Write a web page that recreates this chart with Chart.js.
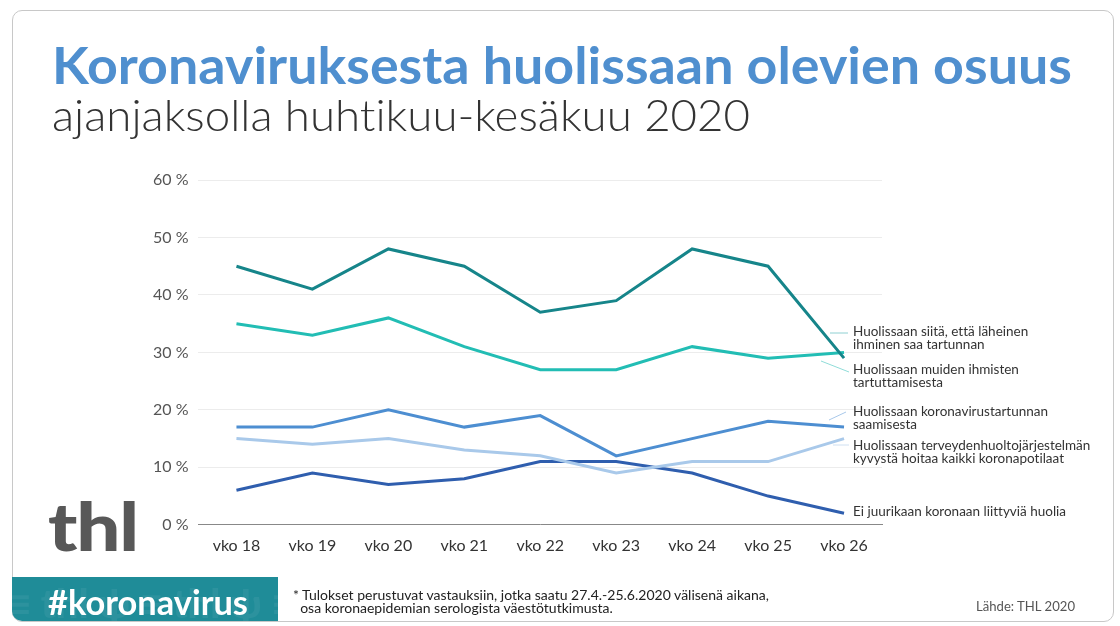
<!DOCTYPE html>
<html lang="fi">
<head>
    <meta charset="UTF-8">
    <title>Koronaviruksesta huolissaan olevien osuus</title>
    <script src="https://cdn.jsdelivr.net/npm/chart.js"></script>
    <style>
        html, body {
            margin: 0;
            padding: 0;
            width: 1120px;
            height: 626px;
            overflow: hidden;
            background: #fff;
            font-family: Lato, "Open Sans", sans-serif;
            font-variant-ligatures: none;
        }
        .card {
            position: absolute;
            left: 12px;
            top: 10px;
            width: 1100px;
            height: 610px;
            border: 1px solid #c8c8c8;
            border-radius: 10px;
        }
        #chart {
            position: absolute;
            left: 0;
            top: 0;
        }
        .txt {
            position: absolute;
            white-space: nowrap;
            transform-origin: 0 0;
        }
        .title {
            left: 52px;
            top: 33px;
            font-size: 52px;
            font-weight: 700;
            color: #4f8fcf;
        }
        .subtitle {
            left: 52px;
            top: 89px;
            font-size: 43px;
            font-weight: 300;
            color: #333;
        }
        .logo {
            left: 48px;
            top: 486px;
            font-size: 66px;
            font-weight: 900;
            color: #585858;
            letter-spacing: -1px;
        }
        .banner {
            position: absolute;
            left: 12px;
            top: 577px;
            width: 266px;
            height: 44px;
            background: #1f8c98;
            border-radius: 0 0 0 10px;
            overflow: hidden;
        }
        .banner .bg {
            position: absolute;
            left: -4px;
            top: 2px;
            font-size: 40px;
            font-weight: 900;
            color: rgba(255,255,255,0.06);
            white-space: nowrap;
        }
        .banner .tag {
            left: 36px;
            top: 4px;
            font-size: 34px;
            font-weight: 700;
            color: #fff;
        }
        .note {
            left: 293px;
            top: 590px;
            font-size: 12.5px;
            line-height: 12.5px;
            color: #222;
        }
        .source {
            left: 976px;
            top: 598px;
            font-size: 13px;
            color: #555;
        }
    </style>
</head>
<body>
    <div class="card"></div>
    <canvas id="chart" width="1120" height="626"></canvas>

    <div class="txt title" data-w="1020">Koronaviruksesta huolissaan olevien osuus</div>
    <div class="txt subtitle" data-w="698">ajanjaksolla huhtikuu-kesäkuu 2020</div>
    <div class="txt logo" data-w="90">thl</div>

    <div class="banner">
        <div class="bg">≡ thl ψ ≡ thl ψ ≡</div>
        <div class="txt tag" data-w="200">#koronavirus</div>
    </div>

    <div class="txt note" data-w="476">* Tulokset perustuvat vastauksiin, jotka saatu 27.4.-25.6.2020 välisenä aikana,<br>&nbsp;&nbsp;osa koronaepidemian serologista väestötutkimusta.</div>
    <div class="txt source" data-w="99">Lähde: THL 2020</div>

    <script>
        // viikot
        var weeks = ['vko 18', 'vko 19', 'vko 20', 'vko 21', 'vko 22', 'vko 23', 'vko 24', 'vko 25', 'vko 26'];

        // sarjat (%)
        var laheinen = [45, 41, 48, 45, 37, 39, 48, 45, 29];
        var muut = [35, 33, 36, 31, 27, 27, 31, 29, 30];
        var oma = [17, 17, 20, 17, 19, 12, 15, 18, 17];
        var terveydenhuolto = [15, 14, 15, 13, 12, 9, 11, 11, 15];
        var eiHuolia = [6, 9, 7, 8, 11, 11, 9, 5, 2];

        var seriesNames = [
            ['Huolissaan siitä, että läheinen', 'ihminen saa tartunnan'],
            ['Huolissaan muiden ihmisten', 'tartuttamisesta'],
            ['Huolissaan koronavirustartunnan', 'saamisesta'],
            ['Huolissaan terveydenhuoltojärjestelmän', 'kyvystä hoitaa kaikki koronapotilaat'],
            ['Ei juurikaan koronaan liittyviä huolia']
        ];

        var yTicks = [0, 10, 20, 30, 40, 50, 60];

        // venytetään tekstit oikeaan leveyteen
        document.querySelectorAll('[data-w]').forEach(function (el) {
            var w = el.getBoundingClientRect().width;
            var target = parseFloat(el.getAttribute('data-w'));
            el.style.transform = 'scaleX(' + (target / w) + ')';
        });

        // selitetekstit viivojen oikealle puolelle
        var endLabels = {
            id: 'endLabels',
            afterDatasetsDraw: function (chart) {
                var c = chart.ctx;
                var textX = 853;
                var labelY = [332, 370, 412, 446, 512];
                var leaders = [
                    [830, 333, 848, 333],
                    [821, 361, 849, 372],
                    [829, 420, 846, 412],
                    [833, 445, 849, 445],
                    null
                ];
                c.save();
                chart.data.datasets.forEach(function (ds, i) {
                    if (leaders[i]) {
                        var l = leaders[i];
                        c.strokeStyle = ds.leaderColor;
                        c.lineWidth = 1;
                        c.beginPath();
                        c.moveTo(l[0], l[1]);
                        c.lineTo(l[2], l[3]);
                        c.stroke();
                    }
                    c.fillStyle = '#333';
                    c.font = '13.5px Lato, "Open Sans", sans-serif';
                    c.textBaseline = 'middle';
                    seriesNames[i].forEach(function (line, j) {
                        c.fillText(line, textX, labelY[i] + j * 13);
                    });
                });
                c.restore();
            }
        };

        function ds(data, color, leaderColor) {
            return {
                data: data,
                borderColor: color,
                leaderColor: leaderColor,
                borderWidth: 3,
                pointRadius: 0,
                tension: 0,
                fill: false
            };
        }

        var ctx = document.getElementById('chart').getContext('2d');
        var chart = new Chart(ctx, {
            type: 'line',
            data: {
                labels: weeks,
                datasets: [
                    ds(laheinen, '#16858a', '#8fd0d2'),
                    ds(muut, '#22bdb4', '#8fdcd8'),
                    ds(oma, '#4d8ed1', '#a8c8ea'),
                    ds(terveydenhuolto, '#a9c9ea', '#cfe0f2'),
                    ds(eiHuolia, '#2f5eae', '#2f5eae')
                ]
            },
            options: {
                responsive: false,
                animation: false,
                layout: {
                    padding: { left: 143, right: 238, top: 180, bottom: 60 }
                },
                plugins: {
                    legend: { display: false },
                    tooltip: { enabled: false }
                },
                scales: {
                    x: {
                        offset: true,
                        grid: { display: false, drawTicks: false },
                        border: { color: '#888', width: 1 },
                        ticks: {
                            color: '#333',
                            padding: 11,
                            font: { family: 'Lato', size: 16 }
                        }
                    },
                    y: {
                        min: 0,
                        max: 60,
                        afterBuildTicks: function (axis) {
                            axis.ticks = yTicks.map(function (v) { return { value: v }; });
                        },
                        grid: { color: '#ececec', drawTicks: false },
                        border: { display: false },
                        ticks: {
                            color: '#555',
                            padding: 10,
                            font: { family: 'Lato', size: 16 },
                            callback: function (v) { return v + ' %'; }
                        }
                    }
                }
            },
            plugins: [endLabels]
        });
    </script>
</body>
</html>
